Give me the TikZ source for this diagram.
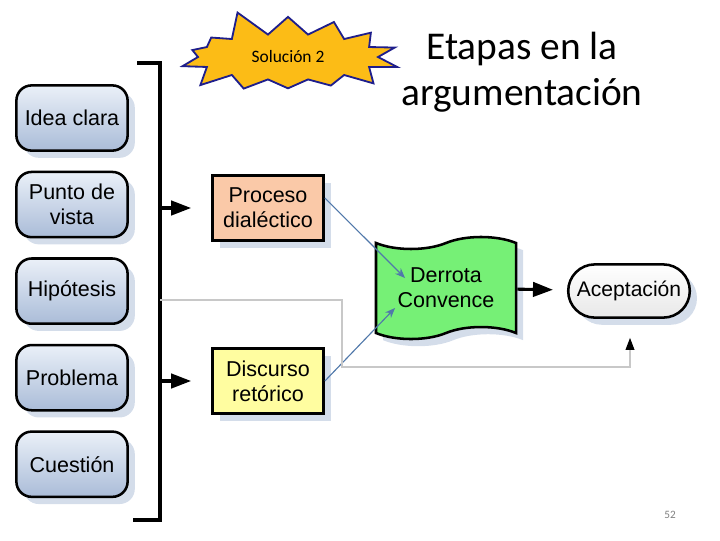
\documentclass[tikz,border=0pt]{standalone}
\usepackage{fontspec}
\setmainfont{Liberation Sans}
\newfontfamily\calib{Carlito}
\usepackage{tikz}
\usetikzlibrary{shapes.symbols, shapes.misc, arrows.meta, positioning, shadows, calc}

\definecolor{boxtop}{RGB}{234,240,248}
\definecolor{boxbot}{RGB}{170,188,216}
\definecolor{shadowblue}{RGB}{212,221,234}
\definecolor{peach}{RGB}{250,201,168}
\definecolor{paleyellow}{RGB}{255,253,160}
\definecolor{flaggreen}{RGB}{118,240,118}
\definecolor{burstfill}{RGB}{252,188,22}
\definecolor{burstline}{RGB}{30,30,140}
\definecolor{linkblue}{RGB}{80,120,170}
\definecolor{linkgray}{RGB}{200,200,200}

\begin{document}
\begin{tikzpicture}[
    x=0.025cm, y=-0.025cm,
    node distance=0.47cm,
    box/.style={rectangle, draw, line width=1.8pt, minimum width=2.78cm, minimum height=1.63cm, align=center,
        font=\fontsize{15.3}{17.7}\selectfont,
        drop shadow={shadow xshift=0.18cm, shadow yshift=-0.18cm, fill=shadowblue, opacity=1}},
    ideabox/.style={box, rounded corners=0.38cm, top color=boxtop, bottom color=boxbot},
    procbox/.style={box, fill=peach},
    discbox/.style={box, fill=paleyellow},
    flag/.style={box, tape, tape bend height=0.3cm, fill=flaggreen, minimum width=3.5cm, minimum height=2.55cm},
    endbox/.style={box, rounded rectangle, top color=white, bottom color=gray!18, minimum width=3.18cm, minimum height=1.33cm, inner xsep=2pt,
        font=\fontsize{15}{17}\selectfont},
    burst/.style={starburst, starburst points=14, starburst point height=0.7cm, random starburst=5,
        fill=burstfill, draw=burstline, line width=1.3pt, minimum width=5.9cm, minimum height=2.55cm,
        font=\calib\fontsize{12.4}{14}\selectfont},
    bracket/.style={line width=2.2pt},
    bigarr/.style={-{Triangle[length=0.5cm, width=0.36cm]}, line width=2.2pt, shorten >=0.5cm},
    link/.style={-{Stealth[length=2.5mm, width=2mm]}, linkblue, line width=0.8pt},
    graylink/.style={-{Triangle[length=0.3cm, width=0.22cm, color=black]}, linkgray, line width=0.8pt},
]
\useasboundingbox (0,0) rectangle (720,540);

% ======== HEADER ========
\node[burst] (sol) at (288,57) {Solución 2};
\node[font=\calib\fontsize{28}{33}\selectfont, align=center] (ttl) at (522,72) {Etapas en la\\argumentación};

% ======== LEFT COLUMN ========
\node[ideabox] (idea) at (72,118) {Idea clara};
\node[ideabox, below=of idea] (punto) {Punto de\\vista};
\node[ideabox, below=of punto] (hip) {Hipótesis};
\node[ideabox, below=of hip] (prob) {Problema};
\node[ideabox, below=of prob] (cuest) {Cuestión};

% bracket (shadow first)
\coordinate (brtop) at (137,63);
\coordinate (brbot) at (133,520);
\draw[bracket, shadowblue, xshift=0.2cm, yshift=-0.2cm] (brtop) -- ++(23,0) |- (brbot);
\draw[bracket] (brtop) -- ++(23,0) |- (brbot);

% ======== MIDDLE ========
\node[procbox] (proc) at (268,208) {Proceso\\dialéctico};
\node[discbox] (disc) at (268,381) {Discurso\\retórico};
\node[flag] (derr) at (446,288) {Derrota\\Convence};
\node[endbox] (acep) at (629,291) {Aceptación};

\coordinate (brA) at (160,208);
\coordinate (brB) at (160,381);
\draw[bigarr] (brA) -- (proc);
\draw[bigarr] (brB) -- (disc);
\draw[bigarr, shorten >=0.35cm] (derr) -- (acep);

\draw[link] (proc.10) -- ($(derr.center)+(-41,-10)$);
\draw[link] (disc.east) -- ($(derr.center)+(-51,20)$);

% thin route from the bracket to Aceptación
\coordinate (hipjoin) at (160,300);
\coordinate (bend) at (342,367);
\coordinate (acepin) at ($(acep.south)+(1,19)$);
\draw[graylink] (hipjoin) -| (bend) -| (acepin);

\node[font=\calib\fontsize{8}{9}\selectfont, gray] (pg) at (670,515) {52};

\end{tikzpicture}
\end{document}
